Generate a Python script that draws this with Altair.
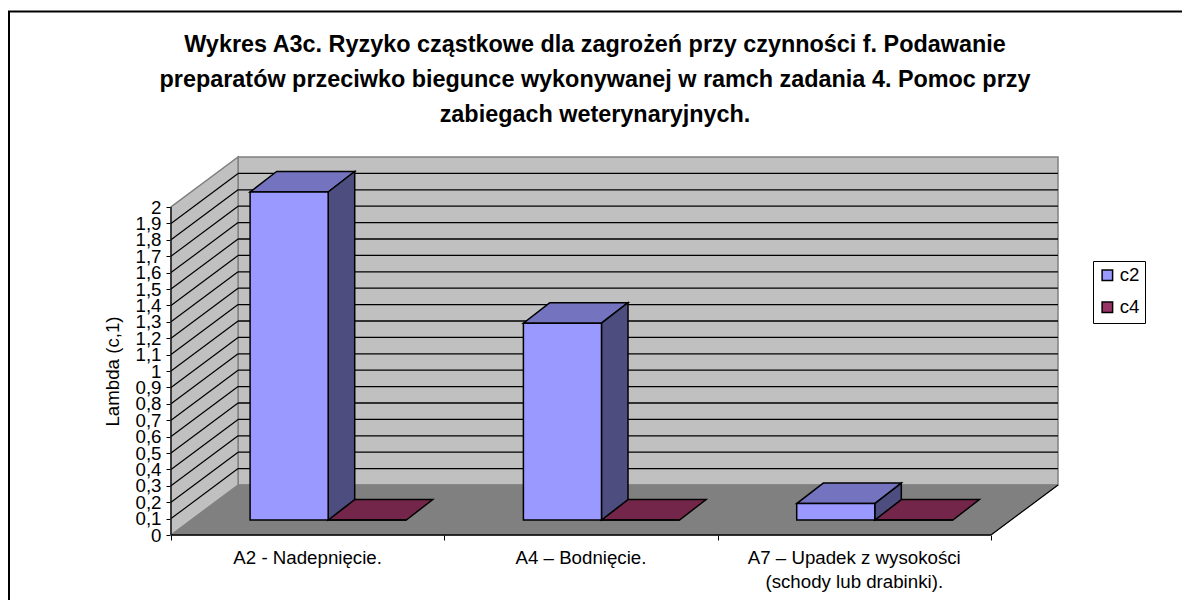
import altair as alt
import pandas as pd

categories = ["A2 - Nadepnięcie.", "A4 – Bodnięcie.", "A7 – Upadek z wysokości\n(schody lub drabinki)."]
c2 = [2.0, 1.2, 0.1]
c4 = [0.0, 0.0, 0.0]
y_ticks = [round(i / 10, 1) for i in range(21)]
title_lines = [
    "Wykres A3c. Ryzyko cząstkowe dla zagrożeń przy czynności f. Podawanie",
    "preparatów przeciwko biegunce wykonywanej w ramch zadania 4. Pomoc przy",
    "zabiegach weterynaryjnych.",
]
y_title = "Lambda (c,1)"

# Scale geometry (1 category = 273 px, 0.1 of value = 16.4 px)
PX_X, PX_Y = 273.0, 164.0
WALL_DX, WALL_DY = 67 / PX_X, 50 / PX_Y
N = len(categories)
X_MAX, Y_MAX = N + WALL_DX, 2 + WALL_DY
BAR_W = 78 / PX_X
BAR_X0 = 79 / PX_X
BAR_Y0 = 15 / PX_Y
BAR_DX, BAR_DY = 26.5 / PX_X, 20.5 / PX_Y

sx = alt.Scale(domain=[0, X_MAX], nice=False, zero=False)
sy = alt.Scale(domain=[0, Y_MAX], nice=False, zero=False)
X = alt.X("x:Q", scale=sx, axis=None)
Y = alt.Y("y:Q", scale=sy, axis=None, stack=None)

FONT = "Liberation Sans"
LABEL_SIZE = 18.7


def hpoly(rows, **kw):
    """Parallelogram with horizontal top and bottom edges."""
    return (
        alt.Chart(pd.DataFrame(rows))
        .mark_area(orient="horizontal", opacity=1, **kw)
        .encode(y=Y, x=X, x2="x2:Q", detail="id:N")
    )


def vpoly(rows, **kw):
    """Parallelogram with vertical left and right edges."""
    return (
        alt.Chart(pd.DataFrame(rows))
        .mark_area(orient="vertical", opacity=1, **kw)
        .encode(x=X, y=Y, y2="y2:Q", detail="id:N")
    )


# Walls and floor
floor = hpoly(
    [
        {"id": 0, "y": 0, "x": 0, "x2": N},
        {"id": 0, "y": WALL_DY, "x": WALL_DX, "x2": N + WALL_DX},
    ],
    fill="#808080",
    stroke="#808080",
    strokeWidth=1,
)
back_wall = (
    alt.Chart(pd.DataFrame([{"x": WALL_DX, "x2": N + WALL_DX, "y": WALL_DY, "y2": 2 + WALL_DY}]))
    .mark_rect(fill="#C0C0C0", stroke="#808080", strokeWidth=1.5)
    .encode(x=X, x2="x2:Q", y=Y, y2="y2:Q")
)
left_wall = vpoly(
    [
        {"id": 0, "x": 0, "y": 0, "y2": 2},
        {"id": 0, "x": WALL_DX, "y": WALL_DY, "y2": 2 + WALL_DY},
    ],
    fill="#C0C0C0",
    stroke="#808080",
    strokeWidth=1.5,
)

grid_vals = [v for v in y_ticks if 0 < v < 2]
grid_back = (
    alt.Chart(pd.DataFrame([{"x": WALL_DX, "x2": N + WALL_DX, "y": v + WALL_DY} for v in grid_vals]))
    .mark_rule(color="black", strokeWidth=1.3)
    .encode(x=X, x2="x2:Q", y=Y)
)
grid_left_rows = []
for v in grid_vals:
    grid_left_rows.append({"id": v, "x": 0, "y": v})
    grid_left_rows.append({"id": v, "x": WALL_DX, "y": v + WALL_DY})
grid_left = (
    alt.Chart(pd.DataFrame(grid_left_rows))
    .mark_line(color="black", strokeWidth=1.2)
    .encode(x=X, y=Y, detail="id:N")
)

# Axis frame lines
y_line = (
    alt.Chart(pd.DataFrame([{"x": 0, "y": 0, "y2": 2}]))
    .mark_rule(color="black", strokeWidth=1.2)
    .encode(x=X, y=Y, y2="y2:Q")
)
x_line = (
    alt.Chart(pd.DataFrame([{"x": 0, "x2": N, "y": 0}]))
    .mark_rule(color="black", strokeWidth=1.5)
    .encode(x=X, x2="x2:Q", y=Y)
)
right_edge = (
    alt.Chart(pd.DataFrame([{"x": N, "y": 0}, {"x": N + WALL_DX, "y": WALL_DY}]))
    .mark_line(color="black", strokeWidth=1.2)
    .encode(x=X, y=Y)
)

# Real axes (ticks and labels)
axis_y = alt.Axis(
    values=y_ticks,
    labelExpr="replace(toString(datum.value), '.', ',')",
    domain=False,
    grid=False,
    tickSize=5,
    tickColor="black",
    labelPadding=5,
    labelFontSize=LABEL_SIZE,
    labelFont=FONT,
    labelColor="black",
    labelOverlap=False,
    labelBound=False,
    title=y_title,
    titleFont=FONT,
    titleFontSize=LABEL_SIZE,
    titleFontWeight="normal",
    titleColor="black",
    titleX=-59,
    titleY=214,
    titleAlign="center",
    titleBaseline="middle",
)
axis_x = alt.Axis(
    values=list(range(N + 1)),
    labels=False,
    domain=False,
    grid=False,
    tickSize=5,
    tickColor="black",
    title=None,
)
axes = (
    alt.Chart(pd.DataFrame({"x": [0], "y": [0]}))
    .mark_point(opacity=0)
    .encode(x=alt.X("x:Q", scale=sx, axis=axis_x), y=alt.Y("y:Q", scale=sy, axis=axis_y))
)

# Bars
series_names = ["c2", "c4"]
series_front = {"c2": "#9999FF", "c4": "#993366"}
series_top = {"c2": "#7373BF", "c4": "#732649"}
series_side = {"c2": "#4D4D80", "c4": "#4D1A33"}
series_vals = {"c2": c2, "c4": c4}


def bar_layers(name):
    offset = series_names.index(name) * BAR_W
    top, side, front = [], [], []
    for i, v in enumerate(series_vals[name]):
        x0 = i + BAR_X0 + offset
        x1 = x0 + BAR_W
        yt = BAR_Y0 + v
        front.append({"series": name, "x": x0, "x2": x1, "y": BAR_Y0, "y2": yt})
        top.append({"id": i, "y": yt, "x": x0, "x2": x1})
        top.append({"id": i, "y": yt + BAR_DY, "x": x0 + BAR_DX, "x2": x1 + BAR_DX})
        side.append({"id": i, "x": x1, "y": BAR_Y0, "y2": yt})
        side.append({"id": i, "x": x1 + BAR_DX, "y": BAR_Y0 + BAR_DY, "y2": yt + BAR_DY})
    stroke = dict(stroke="black", strokeWidth=1.5)
    layers = [hpoly(top, fill=series_top[name], **stroke)]
    if any(series_vals[name]):
        layers.append(vpoly(side, fill=series_side[name], **stroke))
    layers.append(
        alt.Chart(pd.DataFrame(front))
        .mark_rect(**stroke)
        .encode(
            x=X,
            x2="x2:Q",
            y=Y,
            y2="y2:Q",
            color=alt.Color(
                "series:N",
                scale=alt.Scale(domain=series_names, range=[series_front[s] for s in series_names]),
                legend=alt.Legend(
                    title=None,
                    orient="none",
                    legendX=922,
                    legendY=104,
                    symbolType="square",
                    symbolSize=110,
                    symbolStrokeColor="black",
                    symbolStrokeWidth=1.5,
                    labelFont=FONT,
                    labelFontSize=LABEL_SIZE,
                    labelColor="black",
                    labelOffset=3,
                    rowPadding=12,
                    padding=5,
                    strokeColor="black",
                    fillColor="white",
                ),
            ),
        )
    )
    return layers


labels = (
    alt.Chart(pd.DataFrame({"x": [i + 0.5 for i in range(N)], "y": [0] * N, "t": categories}))
    .mark_text(
        baseline="top",
        align="center",
        dy=14,
        lineBreak="\n",
        lineHeight=24,
        font=FONT,
        fontSize=LABEL_SIZE,
        color="black",
    )
    .encode(x=X, y=Y, text="t:N")
)

# Chart frame (top and left edges only)
frame_top = alt.Chart().mark_rule(color="black", strokeWidth=2).encode(
    x=alt.value(-163), x2=alt.value(1011), y=alt.value(-145.5)
)
frame_left = alt.Chart().mark_rule(color="black", strokeWidth=2).encode(
    x=alt.value(-162), y=alt.value(-146), y2=alt.value(443)
)

chart = (
    alt.layer(
        axes,
        back_wall,
        floor,
        left_wall,
        grid_back,
        grid_left,
        y_line,
        x_line,
        right_edge,
        *bar_layers("c4"),
        *bar_layers("c2"),
        labels,
        frame_top,
        frame_left,
    )
    .resolve_axis(x="independent", y="independent")
    .properties(
        width=887,
        height=378,
        autosize=alt.AutoSizeParams(type="none"),
        padding={"left": 163, "top": 149, "right": 124, "bottom": 65},
        title=alt.TitleParams(
            text=title_lines,
            anchor="middle",
            frame="group",
            dx=-19.5,
            offset=-117,
            font=FONT,
            fontSize=23.4,
            fontWeight="bold",
            color="black",
            lineHeight=35,
        ),
    )
    .configure_view(stroke=None)
)

chart.save("out.html", embed_options={"renderer": "svg", "actions": False})
